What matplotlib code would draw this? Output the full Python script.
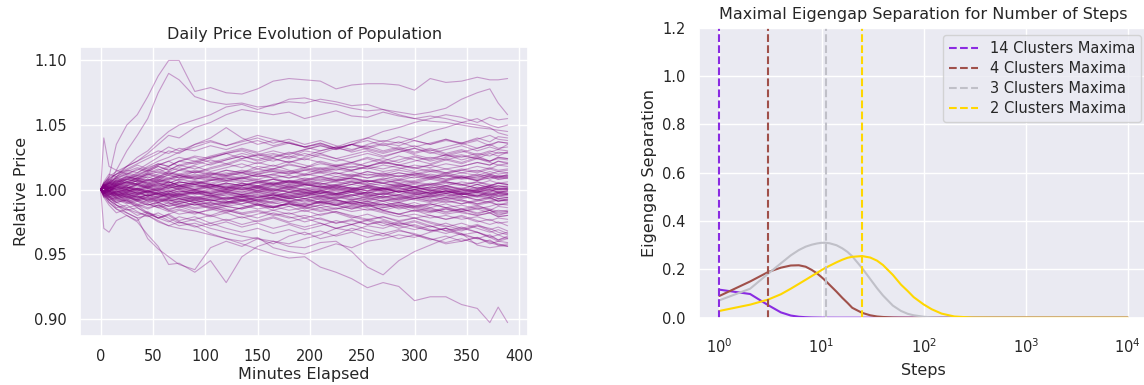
import numpy as np
import matplotlib
matplotlib.use("Agg")
import matplotlib.pyplot as plt
import seaborn as sns

sns.set_theme(style="darkgrid")
plt.rcParams["font.family"] = ["DejaVu Sans"]

# ---------------- Left chart data (price deviations in thousandths) ----------------
MINUTES = [0, 3, 8, 15, 25, 35, 45, 55, 65, 75, 90, 105, 120, 135, 150, 165, 180, 195,
           210, 225, 240, 255, 270, 285, 300, 315, 330, 345, 360, 372, 380, 389]

PATHS_UPPER = [
    [0, 4, 10, 35, 50, 58, 72, 88, 100, 100, 76, 79, 75, 74, 78, 84, 86, 85, 84, 78, 81, 82, 82, 81, 77, 86, 83, 84, 87, 85, 85, 86],
    [0, 2, 5, 15, 30, 42, 55, 75, 90, 85, 72, 68, 66, 67, 64, 65, 70, 71, 68, 66, 63, 61, 62, 60, 58, 60, 63, 70, 75, 78, 67, 58],
    [0, -2, 4, 10, 18, 25, 30, 38, 45, 50, 54, 58, 64, 66, 62, 66, 68, 67, 70, 68, 65, 66, 62, 58, 55, 53, 52, 50, 48, 47, 46, 45],
    [0, 5, 8, 12, 18, 22, 28, 35, 42, 40, 48, 52, 58, 62, 60, 58, 60, 55, 58, 61, 57, 56, 60, 57, 55, 57, 55, 52, 50, 48, 44, 42],
    [0, 3, 1, 8, 12, 15, 20, 25, 30, 28, 35, 40, 48, 40, 35, 38, 36, 33, 35, 32, 30, 35, 38, 36, 40, 45, 48, 52, 55, 50, 48, 50],
    [0, -3, 2, 5, 10, 8, 12, 15, 18, 22, 20, 25, 28, 30, 26, 28, 25, 30, 28, 32, 35, 40, 45, 48, 52, 55, 58, 56, 52, 56, 54, 55],
]

PATHS_LOWER = [
    [0, -5, -8, -12, -15, -18, -20, -25, -28, -30, -32, -35, -38, -42, -46, -50, -53, -52, -60, -64, -69, -76, -72, -75, -86, -83, -83, -89, -92, -103, -91, -103],
    [0, -2, -6, -10, -8, -14, -18, -20, -24, -28, -26, -30, -33, -36, -38, -40, -44, -45, -41, -40, -48, -60, -66, -55, -48, -43, -38, -34, -43, -45, -44, -43],
    [0, -4, -10, -15, -20, -25, -35, -44, -58, -57, -64, -55, -72, -52, -44, -40, -42, -38, -35, -30, -32, -28, -30, -26, -28, -32, -30, -35, -38, -40, -42, -44],
    [0, 2, -5, -12, -18, -22, -38, -46, -52, -58, -62, -45, -40, -44, -38, -42, -36, -33, -38, -35, -30, -33, -36, -32, -34, -38, -42, -40, -37, -42, -40, -41],
    [0, -6, -4, -10, -14, -12, -18, -22, -20, -25, -28, -34, -38, -40, -37, -45, -48, -50, -46, -42, -45, -40, -38, -35, -37, -33, -30, -32, -28, -30, -33, -35],
]

PATHS_MID = [
    [0, 5, 10, 14, 18, 22, 26, 30, 28, 32, 30, 34, 31, 35, 38, 34, 37, 33, 36, 32, 35, 38, 34, 37, 33, 36, 39, 35, 38, 34, 37, 36],
    [0, -5, -10, -15, -18, -22, -20, -24, -28, -25, -29, -26, -30, -33, -30, -34, -31, -35, -32, -36, -33, -37, -34, -38, -35, -39, -36, -40, -37, -41, -43, -44],
    [0, 2, 8, 12, 16, 20, 24, 28, 33, 30, 35, 38, 34, 37, 40, 36, 39, 35, 38, 34, 31, 34, 30, 33, 29, 32, 28, 31, 27, 30, 28, 29],
    [0, -2, -8, -14, -12, -17, -21, -18, -22, -26, -23, -20, -24, -21, -25, -22, -26, -29, -26, -30, -27, -24, -28, -25, -29, -32, -30, -34, -38, -35, -39, -36],
    [0, 6, 12, 10, 15, 19, 16, 20, 18, 22, 26, 24, 28, 31, 28, 25, 28, 31, 34, 31, 35, 33, 36, 34, 38, 35, 39, 36, 40, 37, 41, 40],
    [0, -6, -12, -18, -15, -20, -17, -22, -19, -24, -21, -26, -23, -27, -24, -21, -25, -22, -26, -30, -27, -31, -34, -31, -35, -38, -41, -38, -42, -39, -43, -42],
    [0, 3, -2, 5, 9, 13, 18, 22, 25, 29, 33, 37, 34, 38, 42, 39, 36, 33, 36, 32, 35, 31, 28, 31, 27, 24, 27, 23, 26, 22, 25, 24],
    [0, -3, 2, -4, -8, -5, -9, -13, -10, -14, -11, -15, -12, -9, -12, -16, -13, -17, -14, -18, -22, -19, -23, -27, -24, -28, -32, -29, -33, -37, -40, -38],
    [0, 40, 18, 15, 12, 16, 14, 18, 15, 19, 22, 19, 23, 26, 23, 27, 24, 28, 25, 22, 25, 28, 25, 29, 32, 29, 26, 29, 32, 35, 32, 33],
    [0, -30, -33, -24, -20, -24, -18, -22, -19, -16, -19, -15, -18, -14, -11, -14, -10, -13, -9, -12, -15, -12, -16, -19, -22, -25, -28, -31, -28, -32, -35, -33],
]

PATHS_CORE = [
    [0, 2, 5, 3, 8, 6, 10, 7, 12, 9, 14, 11, 15, 13, 18, 16, 20, 17, 22, 19, 21, 24, 20, 23, 26, 22, 25, 27, 24, 28, 26, 29],
    [0, -3, -1, -6, -4, -8, -5, -9, -7, -11, -8, -12, -10, -6, -9, -13, -11, -15, -12, -10, -14, -11, -16, -13, -17, -14, -18, -15, -19, -16, -20, -18],
    [0, 1, -2, 2, 0, 4, 1, -1, 3, 0, -3, 1, -2, 2, -1, 3, 0, 4, 2, -1, 1, -3, 0, 2, -2, 1, 3, 0, -1, 2, 0, 1],
    [0, 4, 8, 6, 11, 9, 13, 16, 12, 15, 18, 14, 17, 20, 16, 19, 15, 12, 16, 13, 10, 14, 11, 8, 12, 9, 13, 10, 7, 11, 9, 12],
    [0, -2, -6, -4, -9, -12, -8, -11, -15, -13, -17, -20, -16, -19, -22, -18, -21, -25, -22, -26, -23, -27, -24, -28, -25, -29, -26, -30, -27, -31, -29, -32],
    [0, 3, 1, 5, 3, 7, 4, 2, 6, 3, 0, 4, 1, 5, 2, -1, 3, 0, -3, 1, -2, 2, -1, -4, 0, -3, 1, -2, -5, -1, -3, -2],
    [0, -1, 3, 7, 5, 9, 12, 10, 14, 17, 13, 16, 19, 23, 20, 24, 21, 25, 28, 24, 27, 30, 26, 29, 32, 28, 31, 34, 30, 33, 31, 35],
    [0, 2, -2, -5, -3, -7, -4, -8, -6, -3, -7, -4, -8, -5, -9, -6, -2, -5, -1, -4, 0, -3, 1, -2, 2, -1, 3, 0, 4, 1, 3, 2],
    [0, -4, -7, -10, -8, -12, -15, -12, -16, -13, -10, -14, -11, -8, -12, -9, -6, -10, -7, -11, -8, -12, -9, -13, -10, -14, -11, -15, -12, -16, -13, -14],
    [0, 5, 9, 12, 15, 13, 17, 20, 18, 22, 25, 21, 24, 28, 25, 22, 26, 23, 27, 24, 21, 25, 22, 26, 23, 20, 24, 21, 25, 22, 24, 23],
    [0, 1, 4, 2, -1, 1, -2, 0, 3, 1, 4, 2, 5, 3, 6, 4, 7, 5, 2, 4, 1, 3, 0, 2, 5, 3, 6, 4, 1, 3, 5, 4],
    [0, -2, 0, -3, -6, -4, -7, -5, -8, -10, -7, -9, -6, -8, -5, -7, -10, -8, -11, -9, -12, -10, -13, -11, -14, -12, -9, -11, -8, -10, -12, -11],
    [0, 3, 6, 9, 7, 11, 14, 18, 15, 19, 16, 20, 23, 26, 22, 25, 29, 26, 30, 33, 29, 32, 35, 31, 34, 30, 33, 36, 32, 35, 37, 36],
    [0, -3, -8, -12, -16, -14, -19, -22, -25, -21, -24, -28, -25, -29, -26, -30, -27, -31, -28, -24, -27, -23, -26, -30, -27, -31, -34, -30, -33, -37, -35, -38],
    [0, 2, 0, 3, 1, 5, 3, 6, 9, 7, 10, 8, 11, 9, 12, 15, 13, 16, 14, 17, 15, 18, 16, 19, 17, 14, 16, 13, 15, 12, 14, 13],
    [0, -1, -4, -2, -5, -3, -1, -4, -2, 1, -1, 2, 0, 3, 1, -2, 0, -3, -1, 2, 0, 3, 1, -2, 0, -3, -1, -4, -2, -5, -3, -4],
    [0, 4, 2, 6, 10, 8, 12, 9, 13, 11, 8, 10, 7, 9, 6, 8, 5, 7, 10, 8, 11, 9, 12, 10, 13, 11, 8, 10, 7, 9, 11, 10],
    [0, -5, -3, -7, -10, -13, -11, -14, -17, -15, -18, -16, -13, -15, -12, -14, -11, -13, -16, -14, -17, -15, -18, -21, -19, -22, -20, -23, -21, -24, -22, -23],
    [0, 2, 6, 4, 8, 12, 15, 19, 22, 18, 21, 25, 28, 24, 27, 30, 27, 31, 34, 31, 35, 32, 29, 32, 28, 31, 27, 30, 26, 29, 31, 30],
    [0, 1, -1, 1, -2, 0, -3, -1, -4, -2, 0, -2, 1, -1, 2, 0, -2, 0, -3, -1, -4, -2, 1, -1, 2, 0, -2, 1, -1, 2, 0, 1],
    [0, -2, -5, -8, -6, -9, -7, -10, -13, -11, -14, -12, -15, -18, -16, -19, -22, -20, -23, -26, -24, -27, -25, -28, -31, -28, -32, -35, -33, -36, -39, -37],
    [0, 3, 5, 8, 6, 9, 7, 10, 8, 11, 14, 12, 15, 13, 10, 12, 9, 11, 14, 12, 15, 17, 14, 16, 19, 17, 20, 18, 21, 19, 22, 20],
    [0, -1, 2, 0, -3, -1, -5, -3, -6, -4, -7, -5, -2, -4, -1, -3, 0, -2, -5, -3, -6, -8, -5, -7, -4, -6, -3, -5, -8, -6, -9, -7],
    [0, 2, -1, 3, 6, 4, 8, 5, 3, 6, 4, 7, 10, 8, 11, 9, 6, 8, 5, 3, 6, 4, 1, 3, 0, 2, 5, 3, 6, 4, 2, 3],
    [0, -3, -6, -9, -7, -11, -14, -12, -16, -19, -17, -21, -18, -22, -19, -16, -19, -16, -20, -17, -21, -24, -21, -25, -22, -26, -29, -26, -30, -33, -31, -34],
    [0, 4, 7, 5, 9, 7, 11, 14, 11, 15, 13, 17, 20, 17, 21, 18, 22, 19, 16, 19, 17, 21, 24, 21, 25, 23, 27, 25, 28, 26, 29, 28],
    [0, -1, 1, -2, 0, -3, -5, -2, -4, -1, -3, 0, -2, -4, -1, -3, -6, -4, -7, -5, -8, -6, -9, -7, -5, -8, -6, -9, -12, -10, -8, -9],
    [0, 2, 4, 7, 10, 8, 5, 8, 6, 3, 6, 4, 1, 4, 2, 5, 3, 6, 4, 7, 9, 6, 8, 5, 7, 10, 8, 11, 9, 12, 10, 11],
    [0, -4, -2, -6, -9, -7, -4, -6, -3, -5, -8, -6, -9, -11, -8, -10, -13, -11, -14, -12, -10, -13, -11, -15, -13, -16, -19, -17, -20, -18, -21, -20],
    [0, 3, 1, 4, 2, 0, 3, 1, -2, 0, -3, -1, 2, 0, 3, 5, 2, 4, 1, 3, 6, 4, 7, 5, 2, 4, 1, -1, 2, 0, -2, -1],
    [0, 1, 5, 9, 13, 11, 15, 13, 17, 15, 19, 23, 20, 24, 27, 24, 21, 24, 21, 18, 21, 18, 22, 19, 16, 19, 23, 20, 24, 21, 19, 20],
    [0, -2, -4, -1, -5, -8, -6, -10, -8, -12, -15, -13, -17, -14, -11, -14, -10, -13, -9, -12, -15, -12, -16, -19, -16, -20, -23, -20, -24, -27, -25, -28],
    [0, 2, 0, -2, 1, -1, 2, 4, 1, 3, 6, 4, 2, 5, 3, 1, 4, 2, 0, 3, 1, -1, 2, 4, 2, 5, 3, 1, 4, 2, 3, 2],
    [0, -3, -1, -4, -2, 0, -3, -6, -4, -7, -10, -8, -6, -9, -7, -4, -7, -5, -2, -4, -1, -3, -6, -4, -7, -5, -8, -6, -3, -5, -7, -6],
    [0, 3, 7, 10, 14, 17, 15, 19, 22, 25, 22, 26, 29, 32, 29, 33, 36, 33, 30, 33, 37, 40, 37, 41, 38, 35, 38, 36, 39, 42, 39, 38],
    [0, -2, 1, -1, 2, 0, -2, 1, 4, 2, 5, 3, 0, 2, -1, 1, -2, 0, 3, 1, 4, 2, -1, 1, -2, -4, -1, -3, 0, -2, 1, 0],
    [0, 1, -3, -7, -5, -9, -12, -10, -13, -11, -8, -11, -9, -12, -15, -13, -16, -14, -17, -15, -12, -14, -17, -19, -16, -18, -15, -17, -14, -16, -18, -17],
    [0, 2, 5, 3, 6, 9, 7, 10, 13, 11, 9, 12, 10, 13, 16, 14, 12, 15, 13, 16, 14, 11, 13, 10, 12, 15, 13, 16, 14, 17, 15, 16],
    [0, -2, -1, -4, -2, -5, -8, -6, -3, -5, -2, -4, -7, -5, -8, -6, -4, -7, -5, -8, -11, -9, -12, -10, -13, -11, -14, -17, -15, -18, -16, -17],
    [0, 4, 1, -2, 0, -3, -1, 1, -1, 2, 0, 3, 5, 3, 6, 4, 7, 5, 8, 6, 4, 7, 5, 3, 6, 4, 7, 9, 7, 10, 8, 9],
    [0, -1, -3, -5, -3, -6, -9, -7, -10, -13, -11, -14, -16, -19, -17, -20, -18, -22, -19, -17, -20, -23, -21, -24, -22, -20, -23, -21, -25, -23, -26, -25],
    [0, 3, 6, 4, 8, 6, 4, 7, 5, 8, 11, 9, 12, 15, 13, 16, 19, 17, 20, 18, 15, 18, 21, 19, 22, 25, 23, 26, 24, 22, 25, 24],
    [0, -2, 1, 3, 1, 4, 2, 0, -2, 1, -1, -3, -1, -4, -2, -5, -3, -1, -3, 0, -2, -5, -3, -6, -4, -2, -5, -3, -6, -4, -7, -6],
    [0, 1, 3, 1, -1, -4, -2, -5, -3, -6, -9, -7, -4, -6, -3, -5, -2, -4, -1, -3, 0, 2, 0, 3, 1, -1, 2, 0, -2, 1, -1, 0],
    [0, -4, -8, -6, -10, -8, -11, -14, -12, -9, -12, -10, -13, -11, -8, -10, -7, -9, -6, -8, -11, -9, -12, -10, -7, -9, -6, -8, -11, -9, -12, -10],
]

PATHS_TIGHT = [
    [0, 2, -1, 3, 1, 4, 2, 5, 3, 6, 4, 2, 5, 3, 6, 8, 5, 7, 4, 6, 9, 7, 5, 8, 6, 9, 7, 10, 8, 11, 9, 10],
    [0, -2, 1, -1, -4, -2, -5, -3, -1, -4, -2, -5, -3, -6, -4, -7, -5, -3, -6, -4, -7, -9, -6, -8, -5, -7, -10, -8, -11, -9, -7, -8],
    [0, 3, 5, 2, 4, 7, 5, 8, 6, 3, 5, 8, 6, 9, 7, 4, 6, 3, 5, 2, 4, 7, 5, 2, 4, 1, 3, 6, 4, 7, 5, 6],
    [0, -1, -3, -6, -4, -2, -5, -3, -6, -8, -6, -9, -7, -4, -6, -3, -5, -2, -4, -7, -5, -2, -4, -1, -3, -6, -4, -7, -5, -2, -4, -3],
    [0, 1, 3, 0, 2, -1, 1, 4, 2, 5, 7, 5, 8, 10, 8, 11, 9, 12, 10, 7, 9, 6, 8, 11, 9, 12, 10, 13, 11, 8, 10, 9],
    [0, -3, -1, -4, -7, -5, -8, -6, -9, -7, -10, -8, -11, -9, -6, -8, -5, -7, -10, -12, -9, -11, -8, -10, -13, -11, -14, -12, -15, -13, -11, -12],
    [0, 2, 4, 6, 4, 7, 5, 3, 1, 3, 0, 2, 4, 1, 3, 0, -2, 1, -1, 2, 0, 3, 1, 4, 2, -1, 1, -2, 0, 3, 1, 2],
    [0, -2, -4, -2, 0, -3, -1, -4, -6, -4, -1, -3, 0, -2, 1, -1, 2, 0, -2, -4, -2, -5, -3, -1, -4, -2, 0, -3, -1, -4, -2, -3],
    [0, 4, 6, 9, 12, 10, 13, 11, 9, 12, 10, 13, 11, 14, 12, 9, 11, 8, 10, 13, 11, 14, 12, 15, 13, 10, 12, 9, 11, 14, 12, 13],
    [0, -4, -6, -8, -11, -9, -12, -10, -7, -9, -12, -10, -13, -15, -12, -14, -11, -13, -10, -12, -9, -11, -14, -12, -15, -17, -14, -16, -13, -15, -17, -16],
    [0, 1, -1, 2, 0, 3, 1, -1, -3, -1, -4, -2, 0, -2, 1, 3, 1, 4, 2, 0, 2, -1, 1, -2, 0, -3, -1, -4, -2, 0, -2, -1],
    [0, 2, 1, 4, 6, 4, 2, 5, 3, 6, 4, 7, 9, 7, 5, 8, 6, 9, 7, 10, 8, 6, 9, 7, 10, 8, 11, 9, 12, 10, 8, 9],
    [0, -2, -5, -3, -6, -8, -6, -9, -7, -5, -8, -6, -3, -5, -2, -4, -7, -5, -8, -6, -4, -7, -5, -8, -6, -9, -7, -5, -8, -6, -9, -8],
    [0, 3, 2, 0, 3, 1, 4, 7, 5, 8, 6, 4, 7, 5, 3, 6, 4, 7, 9, 7, 10, 12, 10, 13, 11, 14, 12, 15, 13, 16, 14, 15],
    [0, -1, 2, 0, -2, 1, -1, -3, -1, -4, -2, -5, -7, -5, -8, -6, -9, -7, -10, -8, -11, -13, -11, -14, -12, -15, -17, -15, -18, -16, -19, -18],
    [0, 2, 0, -3, -1, 1, -2, 0, 2, 0, 3, 1, -1, 1, -2, 0, 2, -1, 1, 3, 1, -1, 1, -2, 0, 2, 0, -2, 0, 2, 0, 1],
    [0, -3, -5, -7, -5, -8, -10, -8, -11, -9, -6, -8, -10, -7, -9, -11, -9, -12, -10, -8, -10, -7, -9, -6, -8, -10, -8, -11, -9, -7, -9, -8],
    [0, 4, 3, 6, 8, 11, 9, 12, 14, 12, 15, 13, 11, 13, 10, 12, 14, 11, 13, 10, 12, 9, 11, 13, 11, 9, 11, 8, 10, 12, 10, 11],
    [0, -2, 0, 2, 0, -2, 0, -3, -5, -3, -6, -4, -2, -4, -6, -4, -7, -5, -3, -5, -2, -4, -6, -4, -2, -4, -1, -3, -5, -3, -5, -4],
    [0, 1, 3, 5, 3, 5, 8, 6, 8, 11, 9, 7, 9, 6, 8, 5, 7, 4, 6, 8, 6, 3, 5, 7, 5, 8, 6, 4, 6, 3, 5, 4],
    [0, -1, -3, -1, -4, -6, -4, -7, -9, -7, -10, -12, -10, -8, -10, -7, -9, -11, -9, -6, -8, -5, -7, -9, -7, -4, -6, -3, -5, -7, -5, -6],
    [0, 2, 5, 7, 5, 8, 6, 9, 11, 9, 12, 10, 7, 9, 12, 14, 12, 15, 17, 15, 18, 16, 19, 17, 14, 16, 13, 15, 18, 16, 19, 18],
    [0, -2, -1, -3, -1, 1, -1, 2, 0, -2, 0, -3, -1, -3, 0, -2, -4, -2, -5, -3, -5, -2, -4, -1, -3, -5, -3, -6, -4, -6, -3, -4],
    [0, 3, 1, 3, 5, 3, 1, 3, 6, 4, 2, 4, 1, 3, 5, 3, 6, 4, 2, 4, 7, 5, 3, 5, 2, 4, 6, 4, 1, 3, 5, 4],
    [0, -3, -2, -5, -3, -6, -4, -2, -4, -7, -5, -8, -10, -8, -11, -13, -11, -14, -12, -15, -13, -16, -14, -12, -14, -17, -15, -18, -20, -18, -21, -20],
    [0, 1, -1, 1, 3, 5, 3, 6, 4, 2, 4, 1, 3, 0, 2, -1, 1, -2, 0, -3, -1, -4, -2, -5, -3, -1, -3, 0, -2, -4, -2, -3],
    [0, -1, 1, 3, 6, 4, 7, 9, 7, 10, 8, 11, 13, 11, 14, 16, 14, 17, 15, 18, 20, 18, 21, 19, 17, 19, 16, 18, 21, 19, 22, 21],
    [0, 2, -1, -3, -6, -4, -2, -4, -7, -5, -3, -5, -8, -6, -4, -6, -9, -7, -5, -7, -4, -6, -3, -5, -7, -5, -2, -4, -1, -3, -5, -4],
    [0, -1, 2, 4, 2, 0, 2, -1, 1, 3, 1, 4, 2, 0, 2, 4, 2, 5, 3, 1, -1, 1, -2, 0, 2, 0, -3, -1, 1, -1, 1, 0],
    [0, 1, -2, -4, -2, -4, -1, -3, -5, -3, -1, -3, -5, -8, -6, -4, -6, -3, -1, -3, -1, 1, -1, 1, -1, -3, -1, -4, -2, 0, -2, -1],
]

# ---------------- Right chart data ----------------
STEPS = [1, 2, 3, 4, 5, 6, 7, 8, 9, 10, 11, 12, 14, 16, 18, 20, 25, 30, 35, 40, 50, 60,
         70, 80, 100, 120, 150, 200, 300, 500, 1000, 2000, 5000, 10000]
GAP_14 = [0.116, 0.098, 0.052, 0.022, 0.009, 0.004, 0.002, 0.001, 0.0006, 0.0003, 0.0002, 0.0001,
          0, 0, 0, 0, 0, 0, 0, 0, 0, 0, 0, 0, 0, 0, 0, 0, 0, 0, 0, 0, 0, 0]
GAP_4 = [0.090, 0.150, 0.189, 0.207, 0.216, 0.217, 0.211, 0.198, 0.184, 0.168, 0.152, 0.136,
         0.108, 0.082, 0.061, 0.041, 0.020, 0.010, 0.005, 0.003, 0.001, 0.0004, 0.0002, 0.0001,
         0, 0, 0, 0, 0, 0, 0, 0, 0, 0]
GAP_3 = [0.072, 0.120, 0.182, 0.225, 0.258, 0.280, 0.294, 0.302, 0.307, 0.310, 0.310, 0.308,
         0.300, 0.287, 0.272, 0.254, 0.205, 0.160, 0.122, 0.092, 0.050, 0.028, 0.016, 0.010,
         0.004, 0.0015, 0.0003, 0, 0, 0, 0, 0, 0, 0]
GAP_2 = [0.028, 0.054, 0.075, 0.097, 0.120, 0.140, 0.157, 0.172, 0.185, 0.197, 0.207, 0.215,
         0.229, 0.240, 0.248, 0.252, 0.255, 0.249, 0.236, 0.218, 0.177, 0.137, 0.110, 0.085,
         0.055, 0.035, 0.017, 0.005, 0.0005, 0, 0, 0, 0, 0]
CLUSTERS = [14, 4, 3, 2]
MAXIMA_STEPS = [1, 3, 11, 25]
CLUSTER_COLORS = ["#8A2BE2", "#A0504A", "#C0C0C8", "#FFD700"]

TITLE_SIZE = 11.5
LABEL_SIZE = 11.5
TICK_SIZE = 10.5

fig = plt.figure(figsize=(11.44, 3.85), dpi=100)
ax1 = fig.add_axes([0.0702, 0.128, 0.3913, 0.749])
ax2 = fig.add_axes([0.611, 0.1748, 0.3927, 0.7532])

for group in (PATHS_CORE, PATHS_TIGHT, PATHS_MID, PATHS_UPPER, PATHS_LOWER):
    for path in group:
        ax1.plot(MINUTES, 1 + np.array(path) / 1000.0, color="purple", alpha=0.35, lw=0.8)

ax1.set_xticks(range(0, 401, 50))
ax1.set_yticks([0.90, 0.95, 1.00, 1.05, 1.10])
ax1.set_title("Daily Price Evolution of Population", fontsize=TITLE_SIZE, color=".15")
ax1.set_xlabel("Minutes Elapsed", fontsize=LABEL_SIZE, color=".15", labelpad=2)
ax1.set_ylabel("Relative Price", fontsize=LABEL_SIZE, color=".15")
ax1.tick_params(labelsize=TICK_SIZE, colors=".15")

for vals, c in zip([GAP_14, GAP_4, GAP_3, GAP_2], CLUSTER_COLORS):
    ax2.plot(STEPS, vals, color=c, lw=1.5)
for k, xm, c in zip(CLUSTERS, MAXIMA_STEPS, CLUSTER_COLORS):
    ax2.axvline(xm, color=c, ls="--", lw=1.5, label=f"{k} Clusters Maxima")

ax2.set_xscale("log")
ax2.set_ylim(0, 1.2)
ax2.set_yticks([0.0, 0.2, 0.4, 0.6, 0.8, 1.0, 1.2])
ax2.set_title("Maximal Eigengap Separation for Number of Steps", fontsize=TITLE_SIZE, color=".15")
ax2.set_xlabel("Steps", fontsize=LABEL_SIZE, color=".15", labelpad=5)
ax2.set_ylabel("Eigengap Separation", fontsize=LABEL_SIZE, color=".15")
ax2.tick_params(labelsize=TICK_SIZE, colors=".15")
ax2.tick_params(axis="x", pad=8)
ax2.legend(loc="upper right", fontsize=10.5, labelspacing=0.35)

fig.savefig("out.png", dpi=100)
